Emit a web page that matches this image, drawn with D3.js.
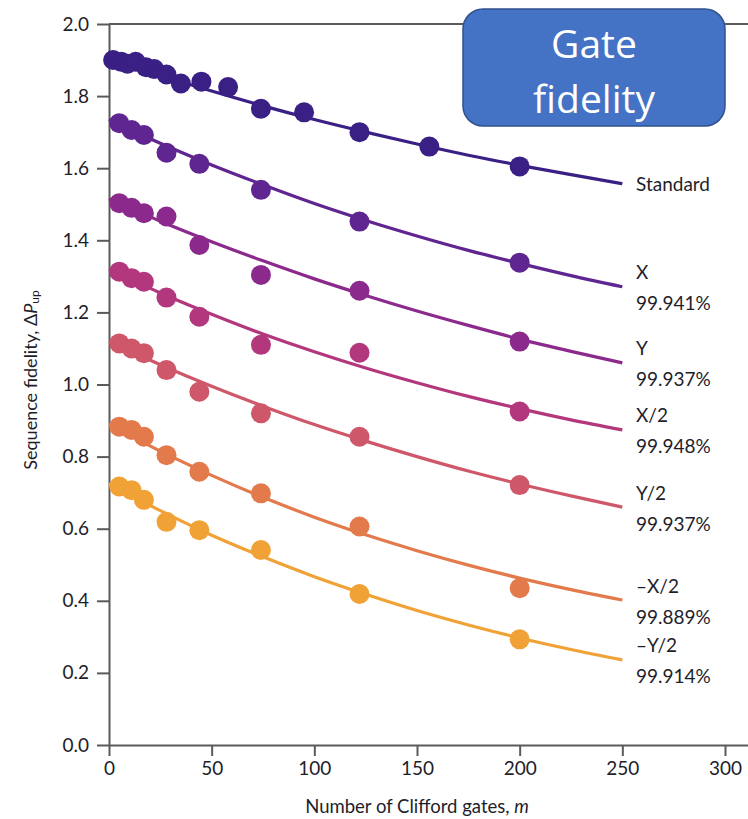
<!DOCTYPE html>
<html>
<head>
<meta charset="utf-8">
<script src="https://cdn.jsdelivr.net/npm/d3@7/dist/d3.min.js"></script>
<style>
  html, body { margin: 0; padding: 0; background: #fff; }
  svg { display: block; }
  text { font-family: Lato, "Open Sans", sans-serif; fill: #1e1e2a; }
</style>
</head>
<body>
<svg id="chart" width="748" height="819"></svg>
<script>
// Clifford sequence lengths and measured sequence fidelities
const mStandard = [2, 6, 9, 13, 18, 22, 28, 35, 45, 58, 74, 95, 122, 156, 200];
const fStandard = [1.90, 1.895, 1.89, 1.895, 1.88, 1.875, 1.86, 1.835, 1.84, 1.825, 1.765, 1.755, 1.70, 1.66, 1.605];

const mInterleaved = [5, 11, 17, 28, 44, 74, 122, 200];
const fX     = [1.725, 1.706, 1.692, 1.643, 1.612, 1.540, 1.452, 1.338];
const fY     = [1.503, 1.490, 1.475, 1.466, 1.387, 1.304, 1.260, 1.119];
const fX2    = [1.313, 1.295, 1.285, 1.241, 1.188, 1.110, 1.088, 0.925];
const fY2    = [1.114, 1.100, 1.087, 1.040, 0.980, 0.920, 0.855, 0.721];
const fmX2   = [0.883, 0.874, 0.855, 0.804, 0.758, 0.698, 0.606, 0.435];
const fmY2   = [0.717, 0.707, 0.680, 0.619, 0.596, 0.541, 0.419, 0.293];

// Fitted decay curves, sampled along m
const mFit = [0, 25, 50, 75, 100, 125, 150, 175, 200, 225, 250];
const fitStandard = [1.905, 1.858, 1.814, 1.773, 1.735, 1.700, 1.667, 1.636, 1.608, 1.582, 1.557];
const fitX   = [1.735, 1.669, 1.609, 1.554, 1.502, 1.455, 1.412, 1.372, 1.336, 1.302, 1.271];
const fitY   = [1.515, 1.453, 1.396, 1.343, 1.293, 1.247, 1.204, 1.164, 1.126, 1.092, 1.060];
const fitX2  = [1.320, 1.254, 1.195, 1.140, 1.091, 1.046, 1.005, 0.967, 0.933, 0.902, 0.874];
const fitY2  = [1.120, 1.055, 0.995, 0.940, 0.889, 0.843, 0.800, 0.760, 0.724, 0.691, 0.660];
const fitmX2 = [0.890, 0.815, 0.748, 0.687, 0.632, 0.583, 0.539, 0.499, 0.463, 0.431, 0.402];
const fitmY2 = [0.725, 0.650, 0.582, 0.522, 0.467, 0.418, 0.373, 0.333, 0.297, 0.265, 0.236];

const seriesNames = ["Standard", "X", "Y", "X/2", "Y/2", "\u2013X/2", "\u2013Y/2"];
const gateFidelities = [null, "99.941%", "99.937%", "99.948%", "99.937%", "99.889%", "99.914%"];
const seriesColors = ["#3a1f85", "#5f2590", "#8b2a8c", "#b2377c", "#cf576a", "#e37a4c", "#f0a236"];

const xTicks = [0, 50, 100, 150, 200, 250, 300];
const yTicks = [0, 0.2, 0.4, 0.6, 0.8, 1.0, 1.2, 1.4, 1.6, 1.8, 2.0];

const series = [
  { m: mStandard, f: fStandard, fit: fitStandard },
  { m: mInterleaved, f: fX, fit: fitX },
  { m: mInterleaved, f: fY, fit: fitY },
  { m: mInterleaved, f: fX2, fit: fitX2 },
  { m: mInterleaved, f: fY2, fit: fitY2 },
  { m: mInterleaved, f: fmX2, fit: fitmX2 },
  { m: mInterleaved, f: fmY2, fit: fitmY2 }
].map((s, i) => ({ ...s, name: seriesNames[i], fid: gateFidelities[i], color: seriesColors[i] }));

const svg = d3.select("#chart");
const plotLeft = 109, plotRight = 748, plotTop = 24, plotBottom = 745;

const x = d3.scaleLinear().domain([0, 311.2]).range([plotLeft, plotRight]);
const y = d3.scaleLinear().domain([0, 2.0]).range([plotBottom, plotTop]);

// Axes
const axisColor = "#5a5a5a";
const gx = svg.append("g")
  .attr("transform", `translate(0,${plotBottom})`)
  .call(d3.axisBottom(x).tickValues(xTicks).tickSize(11).tickSizeOuter(0).tickPadding(6).tickFormat(d3.format("d")));
const gy = svg.append("g")
  .attr("transform", `translate(${plotLeft},0)`)
  .call(d3.axisLeft(y).tickValues(yTicks).tickSize(12).tickSizeOuter(0).tickPadding(8).tickFormat(d3.format(".1f")));
[gx, gy].forEach(g => {
  g.select(".domain").attr("stroke", axisColor).attr("stroke-width", 2);
  g.selectAll(".tick line").attr("stroke", axisColor).attr("stroke-width", 2);
  g.selectAll(".tick text").attr("font-size", 19).attr("fill", "#1e1e2a")
    .style("font-family", "Lato, sans-serif");
});
// top frame line
svg.append("line")
  .attr("x1", plotLeft).attr("x2", plotRight).attr("y1", plotTop).attr("y2", plotTop)
  .attr("stroke", axisColor).attr("stroke-width", 2);

// Fit curves
const line = d3.line().x(d => x(d[0])).y(d => y(d[1])).curve(d3.curveMonotoneX);
series.forEach(s => {
  svg.append("path")
    .datum(mFit.map((m, i) => [m, s.fit[i]]))
    .attr("d", line)
    .attr("fill", "none")
    .attr("stroke", s.color)
    .attr("stroke-width", 3.2);
});

// Data points
series.forEach(s => {
  svg.append("g").selectAll("circle")
    .data(s.m.map((m, i) => [m, s.f[i]]))
    .join("circle")
    .attr("cx", d => x(d[0]))
    .attr("cy", d => y(d[1]))
    .attr("r", 10)
    .attr("fill", s.color);
});

// Series labels at the curve ends
const labelX = 636;
series.forEach(s => {
  const yEnd = y(s.fit[s.fit.length - 1]);
  if (s.fid === null) {
    svg.append("text").attr("x", labelX).attr("y", yEnd)
      .attr("dominant-baseline", "central").attr("font-size", 19).text(s.name);
  } else {
    svg.append("text").attr("x", labelX).attr("y", yEnd - 15)
      .attr("dominant-baseline", "central").attr("font-size", 19).text(s.name);
    svg.append("text").attr("x", labelX).attr("y", yEnd + 16)
      .attr("dominant-baseline", "central").attr("font-size", 19).text(s.fid);
  }
});

// Axis titles
svg.append("text")
  .attr("x", 417).attr("y", 806)
  .attr("text-anchor", "middle").attr("dominant-baseline", "central")
  .attr("font-size", 18.5)
  .html('Number of Clifford gates, <tspan font-style="italic">m</tspan>');

const yt = svg.append("text")
  .attr("transform", "translate(30,380) rotate(-90)")
  .attr("text-anchor", "middle").attr("dominant-baseline", "central")
  .attr("font-size", 18);
yt.append("tspan").text("Sequence fidelity, \u0394");
yt.append("tspan").attr("font-style", "italic").text("P");
yt.append("tspan").attr("font-size", 12).attr("dy", 4).text("up");

// Callout box
const box = svg.append("g");
box.append("rect")
  .attr("x", 463).attr("y", 9).attr("width", 262).attr("height", 117)
  .attr("rx", 20).attr("ry", 20)
  .attr("fill", "#4472c4").attr("stroke", "#2f528f").attr("stroke-width", 1.5);
box.append("text").attr("x", 594).attr("y", 42)
  .attr("text-anchor", "middle").attr("dominant-baseline", "central")
  .attr("font-size", 39).style("font-family", "'Open Sans', sans-serif").style("fill", "#fff")
  .text("Gate");
box.append("text").attr("x", 594).attr("y", 97)
  .attr("text-anchor", "middle").attr("dominant-baseline", "central")
  .attr("font-size", 39).style("font-family", "'Open Sans', sans-serif").style("fill", "#fff")
  .text("fidelity");
</script>
</body>
</html>
